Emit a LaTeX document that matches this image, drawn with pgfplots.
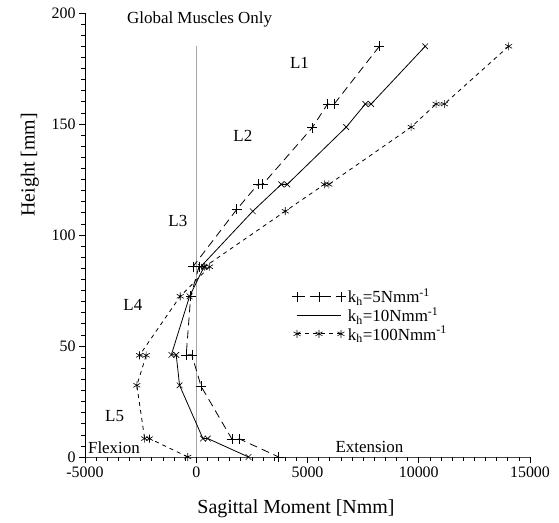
\documentclass[border=0pt]{standalone}
\usepackage{fontspec}
\setmainfont{Liberation Serif}
\usepackage{pgfplots}
\pgfplotsset{compat=1.18}
\pgfplotsset{
  threemarks/.style={legend image code/.code={\draw[mark repeat=1,mark phase=1,##1] plot coordinates {(0bp,0bp) (22bp,0bp) (44bp,0bp)};}},
  plainline/.style={legend image code/.code={\draw[##1,mark=none] (0bp,0bp) -- (44bp,0bp);}},
}
\begin{document}
\begin{tikzpicture}
\begin{axis}[
  at={(0,0)}, anchor=south west,
  scale only axis, width=445bp, height=444bp,
  xmin=-5000, xmax=15000, ymin=0, ymax=200,
  axis lines*=left,
  x axis line style={-, gray!55!black, line width=0.7bp},
  y axis line style={-, black, line width=0.7bp},
  tick align=outside,
  scaled x ticks=false, scaled y ticks=false,
  xtick={-5000,0,5000,10000,15000},
  xticklabels={{-5000},{0},{5000},{10000},{15000}},
  ytick={0,50,100,150,200},
  yticklabels={{0},{50},{100},{150},{200}},
  major tick length=6pt, minor tick length=4pt,
  every tick/.style={draw=black, line width=0.6pt},
  tick label style={font=\fontsize{16}{18}\selectfont},
  xlabel={Sagittal Moment [Nmm]},
  ylabel={Height [mm]},
  label style={font=\fontsize{20}{24}\selectfont},
  xlabel style={at={(axis description cs:0.474,-0.128)}, anchor=base},
  ylabel style={at={(axis description cs:-0.124,0.658)}, anchor=center},
  clip=false,
  legend style={at={(0.458,0.388)}, anchor=north west, draw=none, fill=none,
    font=\fontsize{17}{19}\selectfont, row sep=-1bp},
  legend cell align=left,
]
\pgfplotsinvokeforeach{-5000,-4500,-4000,-3500,-3000,-2500,-2000,-1500,-1000,-500,0,500,1000,1500,2000,2500,3000,3500,4000,4500,5000,5500,6000,6500,7000,7500,8000,8500,9000,9500,10000,10500,11000,11500,12000,12500,13000,13500,14000,14500,15000}{\draw[black, line width=0.6bp] (axis cs:#1,0) -- ++(0bp,-4bp);}
\pgfplotsinvokeforeach{-5000,0,5000,10000,15000}{\draw[black, line width=0.6bp] (axis cs:#1,0) -- ++(0bp,-6bp);}
\pgfplotsinvokeforeach{0,5,10,15,20,25,30,35,40,45,50,55,60,65,70,75,80,85,90,95,100,105,110,115,120,125,130,135,140,145,150,155,160,165,170,175,180,185,190,195,200}{\draw[black, line width=0.6bp] (axis cs:-5000,#1) -- ++(-4bp,0bp);}
\pgfplotsinvokeforeach{0,50,100,150,200}{\draw[black, line width=0.6bp] (axis cs:-5000,#1) -- ++(-6bp,0bp);}

\addplot[gray!70, line width=0.7bp, forget plot] coordinates {(0,0) (0,185)};

\addplot[black, line width=0.8bp, dash pattern=on 8bp off 5bp, mark=+, mark size=5bp,
  mark options={solid, line width=0.6bp}, threemarks]
coordinates {
(8230,185) (6200,159) (5900,159) (5210,148.3) (2990,122.8) (2770,122.8)
(1820,111.5) (-150,85.7) (120,85.7) (-250,72.4) (-450,46) (-200,46)
(220,31.8) (1600,8.1) (1950,8.1) (3710,0)
};
\addlegendentry{k\textsubscript{h}=5Nmm\textsuperscript{-1}}

\addplot[black, line width=0.8bp, mark=x, mark size=4bp,
  mark options={solid, line width=0.6bp}, plainline]
coordinates {
(10290,185) (7860,159) (7600,159) (6740,148.6) (4090,122.8) (3820,122.8)
(2540,110.7) (200,85.7) (350,85.7) (-300,72.4) (-1120,46) (-900,46)
(-750,32.3) (300,8.3) (520,8.3) (2350,0)
};
\addlegendentry{k\textsubscript{h}=10Nmm\textsuperscript{-1}}

\addplot[black, line width=0.8bp, dash pattern=on 4bp off 4bp, mark=asterisk, mark size=4bp,
  mark options={solid, line width=0.6bp}, threemarks]
coordinates {
(14040,185) (11150,159) (10780,159) (9660,148.6) (5960,122.8) (5760,122.8)
(4000,110.7) (380,85.7) (600,85.7) (-720,72.4) (-2550,45.8) (-2250,45.8)
(-2670,32.3) (-2320,8.3) (-2100,8.3) (-380,0)
};
\addlegendentry{k\textsubscript{h}=100Nmm\textsuperscript{-1}}

\node[font=\fontsize{17}{20}\selectfont] at (axis cs:150,197) {Global Muscles Only};
\node[font=\fontsize{17}{20}\selectfont] at (axis cs:4640,177.6) {L1};
\node[font=\fontsize{17}{20}\selectfont] at (axis cs:2093,144.5) {L2};
\node[font=\fontsize{17}{20}\selectfont] at (axis cs:-826,106.2) {L3};
\node[font=\fontsize{17}{20}\selectfont] at (axis cs:-2848,68.7) {L4};
\node[font=\fontsize{17}{20}\selectfont] at (axis cs:-3670,18.3) {L5};
\node[font=\fontsize{17}{20}\selectfont, anchor=west, inner sep=0pt] at (axis cs:-4870,4.0) {Flexion};
\node[font=\fontsize{17}{20}\selectfont] at (axis cs:7784,4.5) {Extension};
\end{axis}
\path (-85bp,-66bp) rectangle (474bp,457bp);
\end{tikzpicture}
\end{document}
